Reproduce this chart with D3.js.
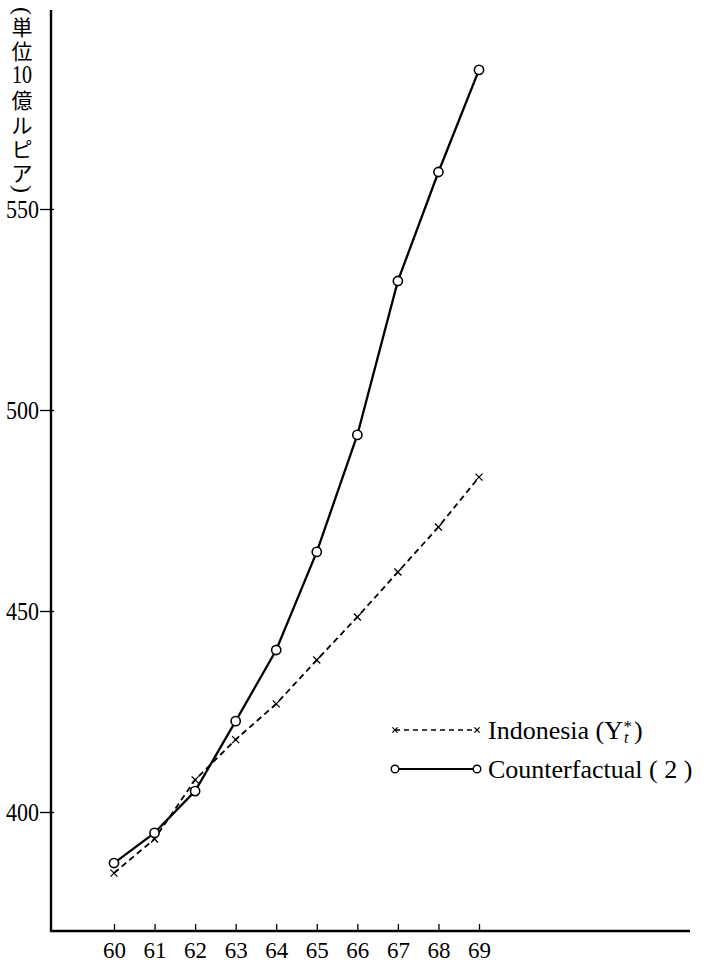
<!DOCTYPE html>
<html><head><meta charset="utf-8">
<script src="https://cdn.jsdelivr.net/npm/d3@7"></script>
<style>body{margin:0;background:#fff}svg{display:block}
.sf{font-family:"Liberation Serif","DejaVu Serif","Noto Serif","Times New Roman",serif;}
.cj{font-family:"Noto Sans CJK JP","Noto Sans CJK SC",sans-serif;}
</style>
</head><body><svg id="c" width="707" height="964"></svg>
<script>
const years = [60,61,62,63,64,65,66,67,68,69];
const indonesia = [384.8,393.3,408.0,418.0,426.9,437.8,448.5,459.7,470.9,483.3];
const counterfactual = [387.3,394.8,405.2,422.6,440.3,464.7,493.8,532.1,559.2,584.6];
const yTicks = [400,450,500,550];
const unitLabel = ["(","単","位","10","億","ル","ピ","ア",")"];
const legendIndo = "Indonesia  (Y";
const legendCf = "Counterfactual  ( 2 )";

const svg = d3.select("#c");

const x = d3.scaleLinear().domain([60,69]).range([114,479]);
const y = d3.scaleLinear().domain([400,550]).range([812,209]);
const axisX = 51, axisY = 931;

svg.append("line").attr("x1",axisX).attr("x2",axisX).attr("y1",10).attr("y2",axisY+1)
  .attr("stroke","#000").attr("stroke-width",2.4);
svg.append("line").attr("x1",axisX-1).attr("x2",690).attr("y1",axisY).attr("y2",axisY)
  .attr("stroke","#000").attr("stroke-width",2.4);

const gx = svg.append("g").attr("transform",`translate(0,${axisY})`)
  .call(d3.axisBottom(x).tickValues(years).tickSizeInner(-7).tickSizeOuter(0).tickPadding(0).tickFormat(d3.format("d")));
gx.select(".domain").remove();
gx.attr("font-family",null).attr("font-size",null);
gx.selectAll("line").attr("stroke","#000").attr("stroke-width",1.3);
gx.selectAll("text").attr("class","sf").attr("dy",null).attr("y",27).style("font-size","24px").attr("fill","#000")
  .attr("textLength",23).attr("lengthAdjust","spacingAndGlyphs");

const gy = svg.append("g").attr("transform",`translate(${axisX},0)`)
  .call(d3.axisLeft(y).tickValues(yTicks).tickSizeInner(11).tickSizeOuter(0).tickPadding(1).tickFormat(d3.format("d")));
gy.select(".domain").remove();
gy.attr("font-family",null).attr("font-size",null);
gy.selectAll("line").attr("x1",3).attr("stroke","#000").attr("stroke-width",1.3);
gy.selectAll("text").attr("class","sf").style("font-size","25px").attr("fill","#000")
  .attr("dy","0.34em").attr("textLength",33).attr("lengthAdjust","spacingAndGlyphs");

// unit label (vertical)
const unitY = [11,28,52,74,101,126,150,174,189];
const ul = svg.append("g");
unitLabel.forEach((t,i)=>{
  const isParen = (t==="("||t===")");
  const tx = ul.append("text").attr("x",22).attr("y",unitY[i]).attr("dy","0.35em")
    .attr("text-anchor","middle").attr("fill","#000");
  if (isParen) {
    tx.attr("class","sf").style("font-size","24px")
      .attr("transform",`rotate(90,22,${unitY[i]})`).attr("dy","0.3em");
  } else if (t==="10") {
    tx.attr("class","sf").style("font-size","25px").attr("textLength",20).attr("lengthAdjust","spacingAndGlyphs");
  } else {
    tx.attr("class","cj").style("font-size","21px");
  }
  tx.text(t);
});

const ptsI = years.map((yr,i)=>[x(yr),y(indonesia[i])]);
const ptsC = years.map((yr,i)=>[x(yr),y(counterfactual[i])]);
const line = d3.line();
svg.append("path").attr("d",line(ptsI)).attr("fill","none").attr("stroke","#000")
  .attr("stroke-width",1.8).attr("stroke-dasharray","6,4");
svg.append("path").attr("d",line(ptsC)).attr("fill","none").attr("stroke","#000")
  .attr("stroke-width",2.3);

function cross(g,cx,cy,s){
  g.append("path").attr("d",`M${cx-s},${cy-s}L${cx+s},${cy+s}M${cx-s},${cy+s}L${cx+s},${cy-s}`)
    .attr("stroke","#000").attr("stroke-width",1.3).attr("fill","none");
}
const mk = svg.append("g");
ptsI.forEach(p=>cross(mk,p[0],p[1],3.5));
ptsC.forEach(p=>mk.append("circle").attr("cx",p[0]).attr("cy",p[1]).attr("r",4.6)
  .attr("fill","#fff").attr("stroke","#000").attr("stroke-width",1.6));

const lg = svg.append("g");
const lx1 = 395, lx2 = 477, ly1 = 730, ly2 = 769, tx = 488;
lg.append("line").attr("x1",lx1).attr("x2",lx2).attr("y1",ly1).attr("y2",ly1)
  .attr("stroke","#000").attr("stroke-width",1.4).attr("stroke-dasharray","5,4");
cross(lg,lx1,ly1,2.6); cross(lg,lx2,ly1,2.6);
lg.append("line").attr("x1",lx1).attr("x2",lx2).attr("y1",ly2).attr("y2",ly2)
  .attr("stroke","#000").attr("stroke-width",2.2);
[lx1,lx2].forEach(cx=>lg.append("circle").attr("cx",cx).attr("cy",ly2).attr("r",3.8)
  .attr("fill","#fff").attr("stroke","#000").attr("stroke-width",1.4));

const t1 = lg.append("text").attr("class","sf").attr("x",tx).attr("y",ly1+9)
  .style("font-size","26px").attr("fill","#000").text(legendIndo);
const w1 = t1.node().getComputedTextLength();
lg.append("text").attr("class","sf").attr("x",tx+w1+1).attr("y",ly1+13)
  .style("font-style","italic").style("font-size","16px").attr("fill","#000").text("t");
lg.append("text").attr("class","sf").attr("x",tx+w1+0.5).attr("y",ly1+2)
  .style("font-size","17px").attr("fill","#000").text("*");
lg.append("text").attr("class","sf").attr("x",tx+w1+11).attr("y",ly1+9)
  .style("font-size","26px").attr("fill","#000").text(")");
lg.append("text").attr("class","sf").attr("x",tx).attr("y",ly2+9)
  .style("font-size","26px").attr("fill","#000").text(legendCf);
</script></body></html>
